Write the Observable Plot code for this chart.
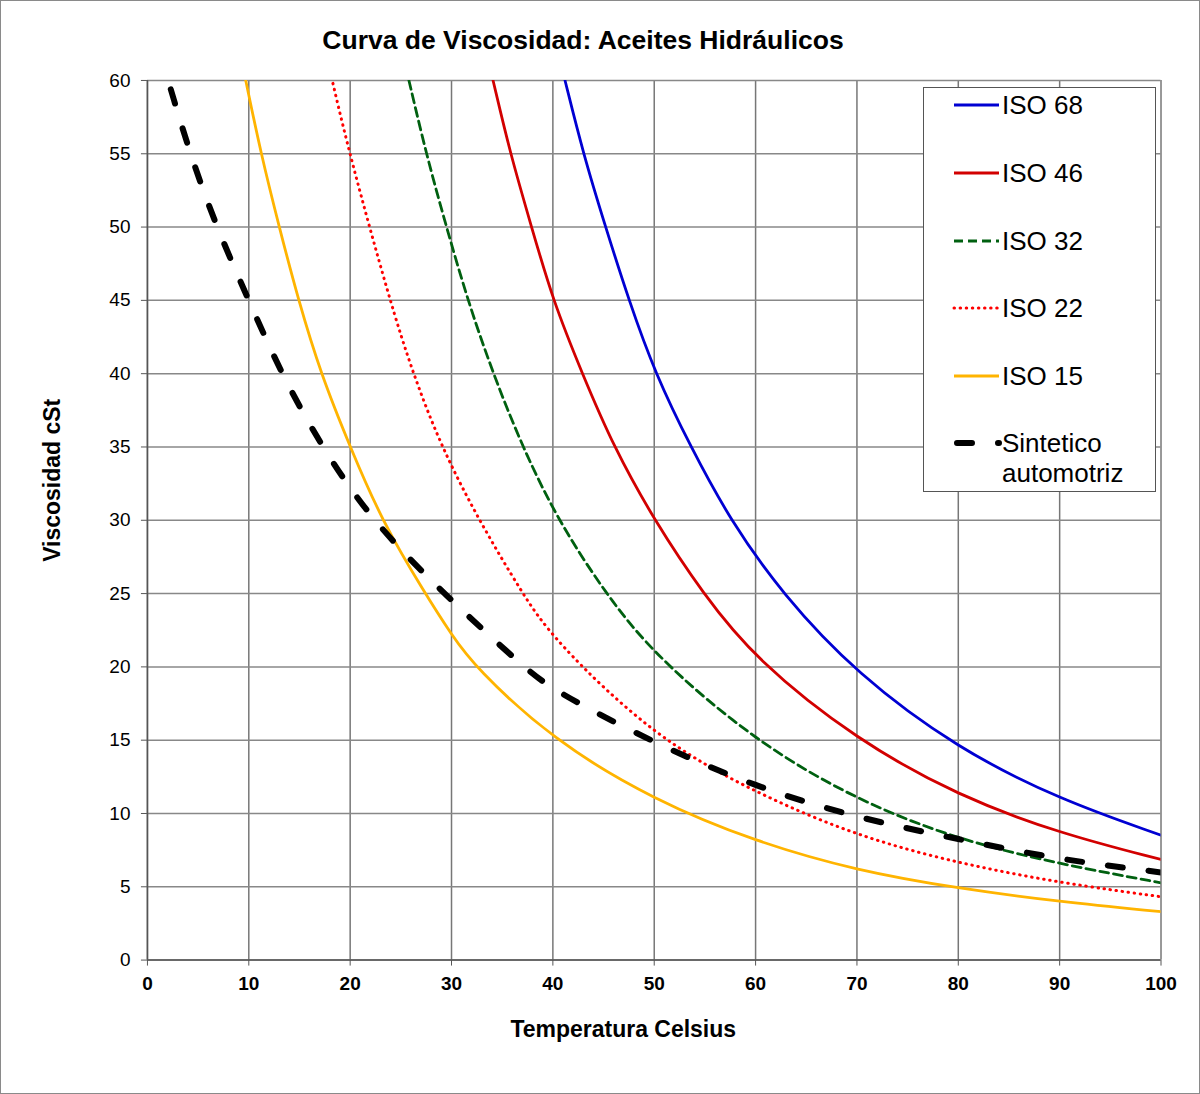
<!DOCTYPE html>
<html>
<head>
<meta charset="utf-8">
<script src="https://cdn.jsdelivr.net/npm/d3@7"></script>
<script src="https://cdn.jsdelivr.net/npm/@observablehq/plot@0.6"></script>
<style>
  html, body { margin: 0; padding: 0; background: #fff; }
  #wrap { position: relative; width: 1200px; height: 1094px; box-sizing: border-box; border: 1.5px solid #8a8a8a; background: #fff; overflow: hidden; font-family: "Liberation Sans", Arial, sans-serif; }
  #chart { position: absolute; left: -1.5px; top: -1.5px; }
  #title { position: absolute; left: 0; top: 23px; width: 1164px; text-align: center; font-size: 26.5px; font-weight: bold; line-height: 32px; color: #000; }
  #legend { position: absolute; left: 922px; top: 86px; width: 233px; height: 405px; box-sizing: border-box; border: 1.5px solid #555; background: #fff; }
  .entry { position: absolute; left: 0; width: 230px; height: 30px; }
  .entry svg { position: absolute; left: 28px; top: 0; }
  .entry span { position: absolute; left: 78px; top: 0; font-size: 26px; line-height: 30px; color: #000; white-space: nowrap; }
  g[aria-label="x-axis tick label"] text { font-weight: bold; }
</style>
</head>
<body>
<div id="wrap">
  <div id="chart"></div>
  <div id="title"></div>
  <div id="legend"></div>
</div>
<script>
// ---- Data (temperature °C, viscosity cSt) ----
const chartTitle = "Curva de Viscosidad: Aceites Hidráulicos";
const xLabel = "Temperatura Celsius";
const yLabel = "Viscosidad cSt";
const xTicks = [0, 10, 20, 30, 40, 50, 60, 70, 80, 90, 100];
const yTicks = [0, 5, 10, 15, 20, 25, 30, 35, 40, 45, 50, 55, 60];
const seriesNames = ["ISO 68", "ISO 46", "ISO 32", "ISO 22", "ISO 15", "Sintetico automotriz"];

const iso68 = [[41.2,60],[43.0,55],[45.2,50],[47.5,45],[50.1,40],[53.6,35],[57.5,30],[62.6,25],[70,19.5],[80,14.4],[90,10.95],[100,8.52]];
const iso46 = [[34.1,60],[35.8,55],[37.9,50],[40,45],[42.9,40],[46,35],[50,30],[54.8,25],[60,20.5],[70,15],[80,11.2],[90,8.64],[100,6.86]];
const iso32 = [[25.8,60],[27.5,55],[29.5,50],[31.6,45],[34.1,40],[37.0,35],[40.5,30],[45.2,25],[50,20.8],[60,14.9],[70,10.9],[80,8.2],[90,6.55],[100,5.27]];
const iso22 = [[18.3,59.8],[20,54.8],[23.9,45],[26.2,40],[29,35],[32.7,30],[37,25],[40,21.9],[50,15.2],[60,11.4],[70,8.45],[80,6.6],[90,5.27],[100,4.32]];
const iso15 = [[9.7,60],[11.2,55],[13.0,50],[14.9,45],[17.1,40],[20,35],[23.1,30],[27.4,25],[30,22.2],[32.3,20],[40,15],[50,10.9],[60,8.07],[70,6.1],[80,4.89],[90,3.98],[100,3.3]];
const sintetico = [[2.3,59.4],[4.2,55],[6.8,50],[10,45],[13.2,40],[17.2,35],[22.1,30],[29.2,25],[37.1,20],[40,18.4],[50,14.8],[60,11.8],[70,9.7],[80,8.25],[90,6.85],[100,5.98]];

// ---- Styles ----
const styles = [
  {stroke: "#0000d2", strokeWidth: 2.8},
  {stroke: "#d20000", strokeWidth: 2.8},
  {stroke: "#006010", strokeWidth: 2.8, strokeDasharray: "9,5"},
  {stroke: "#ff0000", strokeWidth: 3, strokeDasharray: "0.5,5.6", strokeLinecap: "round"},
  {stroke: "#ffb400", strokeWidth: 2.8},
  {stroke: "#000000", strokeWidth: 6, strokeDasharray: "15,26", strokeLinecap: "round"}
];
const seriesData = [iso68, iso46, iso32, iso22, iso15, sintetico];

const lineMarks = seriesData.map((d, i) =>
  Plot.line(d, {x: p => p[0], y: p => p[1], curve: "basis", clip: true, ...styles[i]})
);

const chart = Plot.plot({
  width: 1200,
  height: 1094,
  marginLeft: 147,
  marginRight: 39,
  marginTop: 80,
  marginBottom: 134,
  style: {fontFamily: "'Liberation Sans', Arial, sans-serif", background: "transparent", color: "#000", overflow: "visible"},
  x: {domain: [0, 100]},
  y: {domain: [0, 60]},
  marks: [
    Plot.gridX(xTicks, {stroke: "#777", strokeOpacity: 1, strokeWidth: 1.5}),
    Plot.gridY(yTicks, {stroke: "#888", strokeOpacity: 1, strokeWidth: 1.5}),
    Plot.axisY(yTicks, {tickSize: 6, tickPadding: 11, fontSize: 19, stroke: "#555", label: null}),
    Plot.axisX(xTicks, {tickSize: 6, tickPadding: 10, fontSize: 19, fontWeight: "bold", stroke: "#555", label: null}),
    Plot.ruleX([0], {stroke: "#555", strokeWidth: 1.5}),
    Plot.ruleY([0], {stroke: "#555", strokeWidth: 1.5}),
    ...lineMarks,
    Plot.text([xLabel], {text: d => d, frameAnchor: "bottom", textAnchor: "middle", dx: -31, dy: 70, lineAnchor: "middle", fontSize: 23, fontWeight: "bold"}),
    Plot.text([yLabel], {text: d => d, frameAnchor: "left", textAnchor: "middle", rotate: -90, dx: -95, dy: -40, lineAnchor: "middle", fontSize: 23, fontWeight: "bold"})
  ]
});
document.getElementById("chart").appendChild(chart);
document.getElementById("title").textContent = chartTitle;

// ---- Legend ----
const legend = document.getElementById("legend");
const entryCenters = [17, 85, 153, 220, 288, 355];
seriesNames.forEach((name, i) => {
  const e = document.createElement("div");
  e.className = "entry";
  e.style.top = (entryCenters[i] - 15) + "px";
  const s = styles[i];
  const svgNS = "http://www.w3.org/2000/svg";
  const svg = document.createElementNS(svgNS, "svg");
  svg.setAttribute("width", 50);
  svg.setAttribute("height", 30);
  const ln = document.createElementNS(svgNS, "line");
  ln.setAttribute("x1", i === 5 ? 5 : 2);
  ln.setAttribute("x2", 47);
  ln.setAttribute("y1", 15);
  ln.setAttribute("y2", 15);
  ln.setAttribute("stroke", s.stroke);
  ln.setAttribute("stroke-width", s.strokeWidth);
  if (s.strokeDasharray) ln.setAttribute("stroke-dasharray", s.strokeDasharray);
  if (s.strokeLinecap) ln.setAttribute("stroke-linecap", s.strokeLinecap);
  svg.appendChild(ln);
  e.appendChild(svg);
  const words = name.split(" ");
  const sp = document.createElement("span");
  if (i === 5) {
    sp.innerHTML = words[0] + "<br>" + words[1];
  } else {
    sp.textContent = name;
  }
  e.appendChild(sp);
  legend.appendChild(e);
});
</script>
</body>
</html>
